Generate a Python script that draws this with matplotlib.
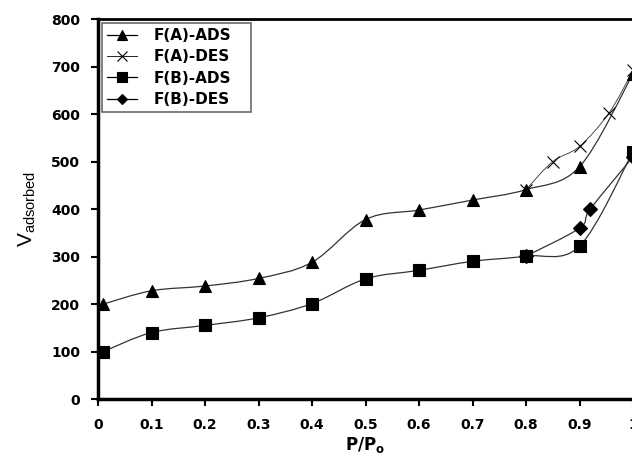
import matplotlib.pyplot as plt
from matplotlib.path import Path
from matplotlib.patches import PathPatch
from matplotlib.lines import Line2D

plt.rcParams['font.family'] = 'DejaVu Sans'
plt.rcParams['mathtext.fontset'] = 'custom'
plt.rcParams['mathtext.rm'] = 'Liberation Sans'
plt.rcParams['mathtext.bf'] = 'DejaVu Sans:bold'

# F(A) adsorption / desorption
fa_ads_x = [0.01, 0.1, 0.2, 0.3, 0.4, 0.5, 0.6, 0.7, 0.8, 0.9, 1.0]
fa_ads_y = [200, 228, 238, 254, 288, 378, 398, 419, 441, 489, 685]
fa_des_x = [1.0, 0.955, 0.9, 0.85, 0.8]
fa_des_y = [692, 602, 532, 500, 441]

# F(B) adsorption / desorption
fb_ads_x = [0.01, 0.1, 0.2, 0.3, 0.4, 0.5, 0.6, 0.7, 0.8, 0.9, 1.0]
fb_ads_y = [100, 140, 155, 171, 201, 253, 271, 290, 301, 322, 521]
fb_des_x = [1.0, 0.92, 0.9, 0.8]
fb_des_y = [510, 400, 360, 301]

labels = ["F(A)-ADS", "F(A)-DES", "F(B)-ADS", "F(B)-DES"]
xticks = [0, 0.1, 0.2, 0.3, 0.4, 0.5, 0.6, 0.7, 0.8, 0.9, 1]
xticklabels = ["0", "0.1", "0.2", "0.3", "0.4", "0.5", "0.6", "0.7", "0.8", "0.9", "1"]


def smooth_path(xs, ys):
    # Excel style smoothed line: cubic bezier through every point
    pts = list(zip(xs, ys))
    n = len(pts)
    verts = [pts[0]]
    codes = [Path.MOVETO]
    for i in range(n - 1):
        p0 = pts[i - 1] if i > 0 else pts[i]
        p1 = pts[i]
        p2 = pts[i + 1]
        p3 = pts[i + 2] if i + 2 < n else pts[i + 1]
        c1 = (p1[0] + (p2[0] - p0[0]) / 6, p1[1] + (p2[1] - p0[1]) / 6)
        c2 = (p2[0] - (p3[0] - p1[0]) / 6, p2[1] - (p3[1] - p1[1]) / 6)
        verts += [c1, c2, p2]
        codes += [Path.CURVE4] * 3
    return Path(verts, codes)


fig = plt.figure(figsize=(6.32, 4.55), dpi=100)
ax = fig.add_axes([0.1551, 0.123, 0.8465, 0.835])

# x, y, marker, size, face, line width, marker zorder
series = [
    (fa_ads_x, fa_ads_y, "^", 9, "k", 0.9, 4),
    (fa_des_x, fa_des_y, "x", 8, "none", 0.6, 3),
    (fb_ads_x, fb_ads_y, "s", 8, "k", 0.9, 4),
    (fb_des_x, fb_des_y, "D", 7, "k", 0.9, 3),
]

handles = []
for (xs, ys, m, ms, fc, lw, z), lab in zip(series, labels):
    ax.add_patch(PathPatch(smooth_path(xs, ys), facecolor="none",
                           edgecolor="#333333", lw=lw, zorder=2))
    ax.plot(xs, ys, linestyle="none", marker=m, markersize=ms,
            markerfacecolor=fc, markeredgecolor="k", markeredgewidth=0.8, zorder=z)
    handles.append(Line2D([], [], color="k", lw=lw, marker=m, markersize=ms - 1.5,
                          markerfacecolor=fc, markeredgecolor="k",
                          markeredgewidth=0.8))

ax.set_xlim(0, 1)
ax.set_ylim(0, 800)
ax.set_xticks(xticks)
ax.set_xticklabels(xticklabels)
ax.set_yticks(range(0, 801, 100))
ax.tick_params(direction="out", length=5, width=1.5, labelsize=10)
ax.tick_params(axis="x", pad=9)
ax.tick_params(axis="y", pad=8)
for t in ax.get_xticklabels() + ax.get_yticklabels():
    t.set_fontweight("bold")

ax.spines["left"].set_linewidth(2.5)
ax.spines["bottom"].set_linewidth(2.5)
ax.spines["top"].set_linewidth(2)
ax.spines["right"].set_linewidth(1)
ax.spines["right"].set_color("#999999")

ax.set_xlabel(r"$\mathbf{P/P_o}$", fontsize=12, labelpad=2)
ax.set_ylabel(r"$\mathrm{V_{adsorbed}}$", fontsize=15, labelpad=9)

leg = ax.legend(handles, labels, loc="upper left",
                bbox_to_anchor=(0.0075, 0.761, 0.279, 0.228), mode="expand",
                prop={"weight": "bold", "size": 11}, frameon=True, fancybox=False,
                handlelength=2.0, handletextpad=1.1, borderpad=0.3,
                labelspacing=0.42, borderaxespad=0)
leg.get_frame().set_edgecolor("#444444")
leg.get_frame().set_linewidth(1.2)

plt.savefig("out.png", dpi=100)
